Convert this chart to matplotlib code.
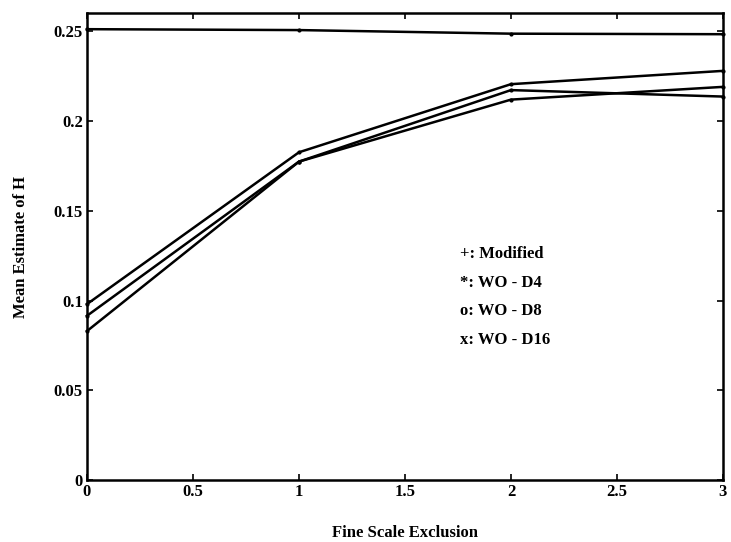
import matplotlib
matplotlib.use("Agg")
import matplotlib.pyplot as plt

plt.rcParams['font.family'] = ['Liberation Serif', 'DejaVu Serif']

# data
exclusion = [0, 1, 2, 3]
modified = [0.2510, 0.2505, 0.2485, 0.2482]
wo_d4 = [0.0980, 0.1825, 0.2204, 0.2278]
wo_d8 = [0.0915, 0.1773, 0.2171, 0.2135]
wo_d16 = [0.0830, 0.1773, 0.2118, 0.2189]

legend_lines = ['+: Modified', '*: WO - D4', 'o: WO - D8', 'x: WO - D16']
legend_y = [0.1261, 0.1100, 0.0944, 0.0783]

xticks = [0, 0.5, 1, 1.5, 2, 2.5, 3]
xtick_labels = ['0', '0.5', '1', '1.5', '2', '2.5', '3']
yticks = [0, 0.05, 0.1, 0.15, 0.2, 0.25]
ytick_labels = ['0', '0.05', '0.1', '0.15', '0.2', '0.25']

fig = plt.figure(figsize=(7.31, 5.42), dpi=100)
ax = fig.add_axes([0.119, 0.114, 0.870, 0.862])

for series in (modified, wo_d4, wo_d8, wo_d16):
    ax.plot(exclusion, series, color='black', lw=1.8, marker='.', ms=4,
            clip_on=False, zorder=3)

for label, yv in zip(legend_lines, legend_y):
    ax.text(1.76, yv, label, fontsize=12, fontweight='bold', va='center')

ax.set_xlim(0, 3)
ax.set_ylim(0, 0.26)
ax.set_xticks(xticks)
ax.set_xticklabels(xtick_labels, fontsize=12, fontweight='bold')
ax.set_yticks(yticks)
ax.set_yticklabels(ytick_labels, fontsize=12, fontweight='bold')
ax.tick_params(direction='in', length=4, width=1.2, top=True, right=True, pad=3)
for sp in ax.spines.values():
    sp.set_linewidth(1.8)

ax.set_xlabel('Fine Scale Exclusion', fontsize=12, fontweight='bold', labelpad=18)
ax.set_ylabel('Mean Estimate of H', fontsize=12, fontweight='bold', labelpad=18)

fig.savefig('out.png', dpi=100)
